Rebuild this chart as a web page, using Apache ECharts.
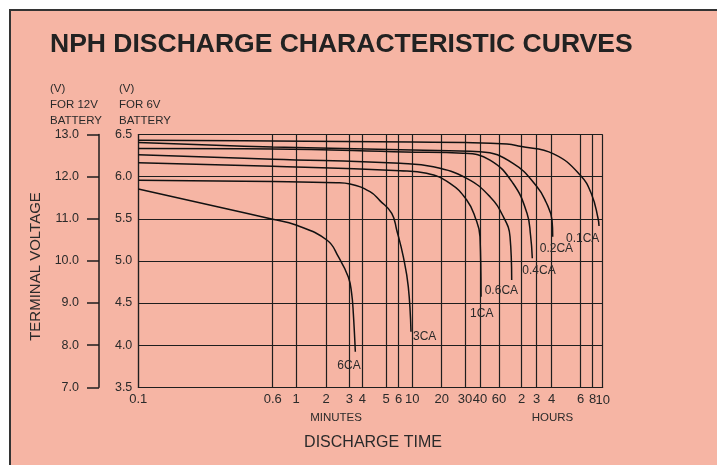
<!DOCTYPE html>
<html>
<head>
<meta charset="utf-8">
<script src="https://cdn.jsdelivr.net/npm/echarts@6/dist/echarts.min.js"></script>
<style>
html,body{margin:0;padding:0;background:#ffffff;}
#c{width:717px;height:465px;}
</style>
</head>
<body>
<div id="c"></div>
<script>
// ---------- DATA ----------
// x ticks: discharge time in minutes, and printed labels
const xTickMinutes = [0.1, 0.6, 1, 2, 3, 4, 5, 6, 10, 20, 30, 40, 60, 120, 180, 240, 360, 480, 600];
const xTickLabels  = ['0.1','0.6','1','2','3','4','5','6','10','20','30','40','60','2','3','4','6','8','10'];
// y ticks (6V battery) and matching 12V battery ticks
const y6Min = 3.5, y6Max = 6.5, y6Step = 0.5;
const y12Min = 7.0, y12Max = 13.0, y12Step = 1.0;

// curves: time (minutes) and terminal voltage (6V battery)
const ca6_t  = [0.1, 0.6, 1.0, 2.04, 2.48, 2.95, 3.16, 3.28, 3.43];
const ca6_v  = [5.853, 5.494, 5.426, 5.245, 5.05, 4.809, 4.616, 4.378, 3.922];
const ca3_t  = [0.1, 0.6, 2.41, 3.05, 4.30, 4.72, 5.43, 5.83, 7.13, 8.6, 9.52];
const ca3_v  = [5.957, 5.942, 5.928, 5.913, 5.821, 5.715, 5.565, 5.367, 5.05, 4.694, 4.16];
const ca1_t  = [0.1, 0.6, 6.3, 14.0, 23.1, 31.0, 36.3, 40, 40.9];
const ca1_v  = [6.165, 6.123, 6.070, 6.04, 5.921, 5.723, 5.525, 5.287, 4.575];
const ca06_t = [0.1, 0.6, 6.3, 16.4, 31.0, 49.5, 68.4, 84, 88.4];
const ca06_v = [6.260, 6.207, 6.158, 6.118, 5.980, 5.762, 5.525, 5.287, 4.773];
const ca04_t = [0.1, 0.6, 7.6, 29.0, 49.5, 92, 138.5, 152.3, 159.8];
const ca04_v = [6.334, 6.328, 6.292, 6.277, 6.197, 5.921, 5.565, 5.307, 5.031];
const ca02_t = [0.1, 0.6, 10, 40, 92, 181, 215, 241, 243.4];
const ca02_v = [6.405, 6.352, 6.316, 6.296, 6.158, 5.881, 5.699, 5.485, 5.287];
const ca01_t = [0.1, 0.6, 10, 30, 76.6, 113.9, 246, 356, 468.7, 540.5, 552.6];
const ca01_v = [6.431, 6.423, 6.41, 6.405, 6.387, 6.36, 6.27, 6.023, 5.786, 5.506, 5.414];

const curveNames = ['6CA','3CA','1CA','0.6CA','0.4CA','0.2CA','0.1CA'];
const curveT = [ca6_t, ca3_t, ca1_t, ca06_t, ca04_t, ca02_t, ca01_t];
const curveV = [ca6_v, ca3_v, ca1_v, ca06_v, ca04_v, ca02_v, ca01_v];

// ---------- AXIS SCALE (chart's own non-uniform time scale) ----------
// relative position (0..100) of each x tick along the printed time axis
const xTickScale = [0, 28.94, 33.96, 40.42, 45.43, 48.23, 53.34, 56.07, 59.00, 65.33, 70.35, 73.58, 77.67, 82.56, 85.79, 89.02, 95.26, 97.85, 100];
function toAxis(t){
  const s = xTickMinutes, u = xTickScale;
  for (let i = 0; i < s.length - 1; i++){
    if (t <= s[i+1] || i === s.length - 2){
      const f = Math.log(t / s[i]) / Math.log(s[i+1] / s[i]);
      return u[i] + f * (u[i+1] - u[i]);
    }
  }
}

// ---------- STYLE ----------
const FONT = '"Liberation Sans", Arial, Helvetica, sans-serif';
const TXT = '#2a2a2a';
const GRIDC = '#1e1e1e';
const labelOffsets = {
  '6CA':[-18,13.5], '3CA':[2,5.5], '1CA':[-11,16.5], '0.6CA':[-27,10.5],
  '0.4CA':[-10,12.5], '0.2CA':[-13,11.5], '0.1CA':[-33,12.5]
};
const lastIdx = xTickMinutes.length - 1;

const series = curveNames.map((name, k) => ({
  type: 'line',
  name: name,
  data: curveT[k].map((t, i) => [toAxis(t), curveV[k][i]]),
  symbol: 'none',
  smooth: 0.45,
  lineStyle: {color: '#111', width: 1.5},
  z: 5,
  endLabel: {
    show: true, formatter: name, distance: 0,
    offset: labelOffsets[name], color: TXT, fontSize: 12, fontFamily: FONT
  }
}));
// vertical grid lines at every time tick (the last one also carries the axis-end label)
series.push({
  type: 'line', data: [], silent: true,
  markLine: {
    symbol: ['none','none'], silent: true, animation: false,
    label: {show: false},
    lineStyle: {type: 'solid', color: GRIDC, width: 1.2},
    data: xTickMinutes.map((t, i) => {
      const item = {xAxis: toAxis(t)};
      if (i === lastIdx) {
        item.label = {show: true, position: 'start', distance: 7, formatter: xTickLabels[i],
                      color: TXT, fontSize: 13, fontFamily: FONT};
      }
      return item;
    })
  }
});

const chart = echarts.init(document.getElementById('c'), null, {renderer: 'canvas'});
chart.setOption({
  animation: false,
  backgroundColor: '#ffffff',
  textStyle: {fontFamily: FONT},
  grid: {left: 138.3, top: 134.5, right: 114.3, bottom: 77.7, containLabel: false},
  xAxis: {
    type: 'value', min: 0, max: 100,
    axisLine: {show: true, lineStyle: {color: GRIDC, width: 1.2}},
    axisTick: {show: false},
    splitLine: {show: false},
    axisLabel: {
      customValues: xTickScale, margin: 6, color: TXT, fontSize: 13, fontFamily: FONT,
      showMinLabel: true, showMaxLabel: false, hideOverlap: false,
      formatter: v => {
        let best = 0;
        xTickScale.forEach((u, i) => { if (Math.abs(u - v) < Math.abs(xTickScale[best] - v)) best = i; });
        return xTickLabels[best];
      }
    }
  },
  yAxis: [
    {
      type: 'value', min: y6Min, max: y6Max, interval: y6Step, position: 'left',
      axisLine: {show: true, lineStyle: {color: GRIDC, width: 1.2}},
      axisTick: {show: false},
      splitLine: {show: true, lineStyle: {color: GRIDC, width: 1.2}},
      axisLabel: {margin: 6, color: TXT, fontSize: 12.5, fontFamily: FONT, formatter: v => v.toFixed(1)}
    },
    {
      type: 'value', min: y12Min, max: y12Max, interval: y12Step, position: 'left', offset: 39.3,
      axisLine: {show: true, lineStyle: {color: '#1e1e1e', width: 1.5}},
      axisTick: {show: true, inside: false, length: 12, lineStyle: {color: '#1e1e1e', width: 1.5}},
      splitLine: {show: false},
      axisLabel: {margin: 20, color: TXT, fontSize: 12.5, fontFamily: FONT, formatter: v => v.toFixed(1)}
    }
  ],
  graphic: [
    {type: 'rect', z: -10, silent: true, shape: {x: 10, y: 10, width: 720, height: 470},
     style: {fill: '#F6B5A4', stroke: '#333', lineWidth: 2}},
    {type: 'text', x: 50, y: 45, style: {text: 'NPH DISCHARGE CHARACTERISTIC CURVES', fill: '#222',
      font: 'bold 26.5px ' + FONT, verticalAlign: 'middle'}},
    {type: 'text', x: 50, y: 89, style: {text: '(V)', fill: TXT, font: '11.5px ' + FONT, verticalAlign: 'middle'}},
    {type: 'text', x: 50, y: 104.5, style: {text: 'FOR 12V', fill: TXT, font: '11.5px ' + FONT, verticalAlign: 'middle'}},
    {type: 'text', x: 50, y: 120.5, style: {text: 'BATTERY', fill: TXT, font: '11.5px ' + FONT, verticalAlign: 'middle'}},
    {type: 'text', x: 119, y: 89, style: {text: '(V)', fill: TXT, font: '11.5px ' + FONT, verticalAlign: 'middle'}},
    {type: 'text', x: 119, y: 104.5, style: {text: 'FOR 6V', fill: TXT, font: '11.5px ' + FONT, verticalAlign: 'middle'}},
    {type: 'text', x: 119, y: 120.5, style: {text: 'BATTERY', fill: TXT, font: '11.5px ' + FONT, verticalAlign: 'middle'}},
    {type: 'text', x: 35.5, y: 266.5, rotation: Math.PI / 2,
     style: {text: 'TERMINAL VOLTAGE', fill: TXT, font: '15px ' + FONT, align: 'center', verticalAlign: 'middle'}},
    {type: 'text', x: 336, y: 418, style: {text: 'MINUTES', fill: TXT, font: '11.5px ' + FONT, align: 'center', verticalAlign: 'middle'}},
    {type: 'text', x: 552.5, y: 418, style: {text: 'HOURS', fill: TXT, font: '11.5px ' + FONT, align: 'center', verticalAlign: 'middle'}},
    {type: 'text', x: 373, y: 442.5, style: {text: 'DISCHARGE TIME', fill: TXT, font: '16px ' + FONT, align: 'center', verticalAlign: 'middle'}}
  ],
  series: series
});
</script>
</body>
</html>
